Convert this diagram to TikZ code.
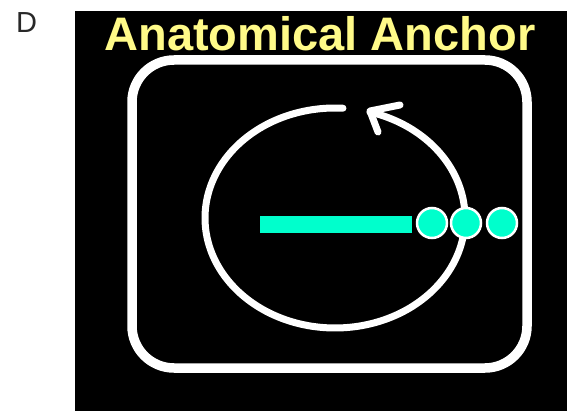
\documentclass[tikz,border=0pt]{standalone}
\usepackage{fontspec}
\setmainfont{Liberation Sans}
\definecolor{anchorcyan}{RGB}{0,255,204}
\definecolor{titleyellow}{RGB}{255,250,136}
\definecolor{labelgray}{RGB}{40,40,40}
\begin{document}
\begin{tikzpicture}[x=1pt,y=-1pt,
  whiteline/.style={draw=white,line width=7pt,line cap=round,line join=round},
  boxline/.style={draw=white,line width=9.5pt,rounded corners=42pt},
  bead/.style={circle,fill=anchorcyan,draw=white,line width=2.5pt,minimum size=30pt,inner sep=0pt}]
\useasboundingbox (0,0) rectangle (567,411);
\fill[white] (0,0) rectangle (567,411);
\fill[black] (75,11) rectangle (567,411);
\node[anchor=base west,font=\fontsize{29}{32}\selectfont,text=labelgray,inner sep=0pt] (lbl) at (16,33) {D};
\node[anchor=base,font=\fontsize{47}{50}\selectfont\bfseries,text=titleyellow,inner sep=0pt] (title) at (320,51) {Anatomical Anchor};
\draw[boxline] (132,60) rectangle (527,368);
\draw[whiteline] plot[domain=86.5:434.4,samples=240,smooth] ({335+130*cos(\x)},{218-110*sin(\x)});
\coordinate (tip) at (370,111);
\coordinate (armA) at (400,105);
\coordinate (armB) at (378,132);
\draw[whiteline] (armA) -- (tip) -- (armB);
\fill[anchorcyan] (260,216) rectangle (412,233);
\node[bead] (b1) at (432,223) {};
\node[bead] (b2) at (466,223) {};
\node[bead] (b3) at (502,223) {};
\end{tikzpicture}
\end{document}
